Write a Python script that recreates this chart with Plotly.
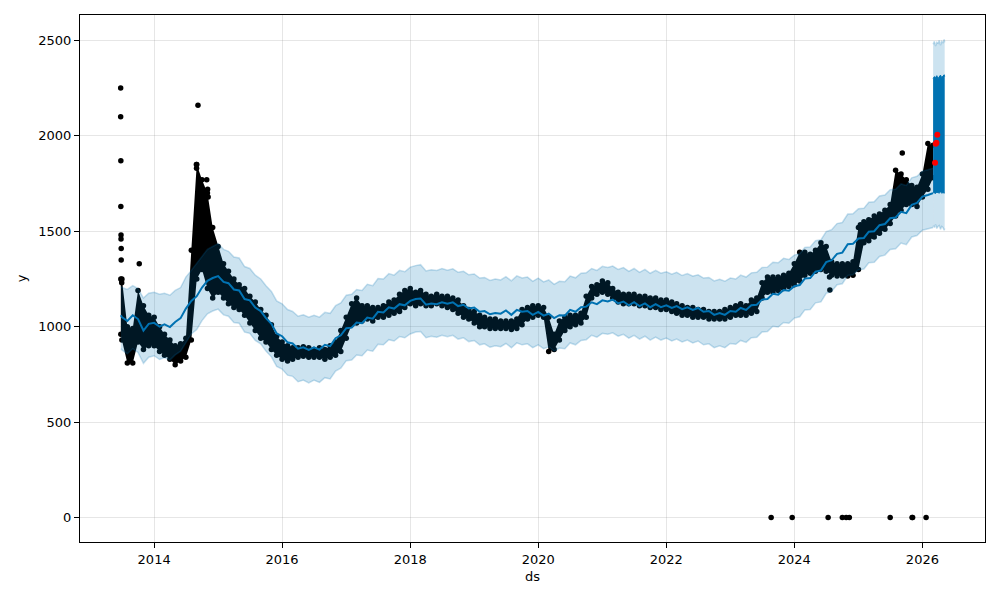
import pandas as pd
import plotly.graph_objects as go

# ---------------- data ----------------
start_date = ["2013-06-25"]
end_date = ["2026-03-03"]
month_starts = [d.strftime("%Y-%m-%d") for d in pd.date_range("2013-07-01", "2026-02-01", freq="MS")]
ds = start_date + month_starts + end_date

yhat = [1060,
        1050, 1030, 1060, 1040, 980, 1015,
        1020, 1000, 1012, 998, 1025, 1045, 1095, 1135, 1160, 1205, 1240, 1255,
        1265, 1235, 1228, 1195, 1190, 1145, 1138, 1100, 1082, 1045, 1015, 965,
        950, 918, 912, 885, 892, 878, 892, 880, 905, 898, 940, 955,
        992, 995, 1022, 1018, 1048, 1042, 1078, 1075, 1102, 1095, 1118, 1112,
        1135, 1145, 1148, 1115, 1122, 1118, 1128, 1120, 1128, 1108, 1115, 1095,
        1100, 1078, 1082, 1065, 1072, 1068, 1085, 1062, 1088, 1078, 1082, 1062,
        1078, 1058, 1068, 1045, 1060, 1058, 1088, 1078, 1102, 1105, 1128, 1118,
        1138, 1132, 1142, 1122, 1132, 1112, 1128, 1108, 1122, 1102, 1118, 1102,
        1112, 1098, 1108, 1092, 1102, 1088, 1098, 1078, 1082, 1062, 1072, 1062,
        1082, 1078, 1098, 1088, 1112, 1115, 1142, 1145, 1172, 1168, 1192, 1188,
        1212, 1218, 1252, 1255, 1288, 1295, 1338, 1348, 1382, 1388, 1432, 1435,
        1462, 1465, 1498, 1500, 1532, 1538, 1568, 1572, 1602, 1595, 1638, 1648,
        1682, 1690,
        1700]

yhat_upper = [1212,
              1205, 1195, 1215, 1200, 1150, 1175,
              1180, 1170, 1175, 1165, 1190, 1205, 1260, 1295, 1330, 1370, 1405, 1420,
              1435, 1405, 1395, 1365, 1360, 1315, 1305, 1270, 1250, 1215, 1185, 1135,
              1120, 1090, 1080, 1055, 1062, 1050, 1060, 1050, 1075, 1070, 1110, 1125,
              1165, 1170, 1195, 1190, 1222, 1215, 1252, 1250, 1278, 1270, 1295, 1288,
              1312, 1320, 1325, 1292, 1298, 1295, 1305, 1296, 1303, 1285, 1290, 1272,
              1276, 1255, 1258, 1242, 1250, 1245, 1262, 1240, 1266, 1255, 1260, 1238,
              1255, 1235, 1245, 1222, 1238, 1236, 1265, 1256, 1280, 1282, 1305, 1295,
              1316, 1310, 1318, 1300, 1310, 1290, 1305, 1285, 1300, 1280, 1295, 1280,
              1288, 1275, 1285, 1268, 1278, 1265, 1272, 1255, 1258, 1240, 1248, 1238,
              1255, 1250, 1270, 1260, 1282, 1285, 1310, 1312, 1338, 1335, 1358, 1352,
              1375, 1382, 1415, 1418, 1450, 1455, 1498, 1508, 1540, 1546, 1590, 1592,
              1618, 1620, 1652, 1654, 1685, 1690, 1718, 1720, 1748, 1740, 1780, 1788,
              1815, 1822,
              1830]

yhat_lower = [885,
              878, 858, 885, 865, 808, 840,
              848, 828, 838, 825, 852, 872, 920, 962, 985, 1032, 1068, 1082,
              1092, 1062, 1055, 1022, 1018, 972, 965, 928, 910, 872, 842, 792,
              778, 746, 740, 712, 720, 706, 720, 708, 733, 726, 768, 783,
              822, 825, 852, 848, 878, 872, 908, 905, 932, 925, 948, 942,
              962, 972, 975, 942, 950, 945, 955, 948, 955, 935, 942, 922,
              928, 905, 910, 892, 900, 895, 912, 890, 915, 905, 910, 890,
              905, 885, 895, 872, 888, 885, 915, 905, 928, 932, 955, 945,
              965, 960, 968, 950, 960, 940, 955, 935, 950, 930, 945, 930,
              940, 925, 935, 920, 930, 915, 925, 905, 910, 890, 900, 890,
              912, 908, 928, 918, 942, 945, 972, 975, 1002, 998, 1022, 1018,
              1045, 1052, 1088, 1090, 1125, 1130, 1175, 1185, 1220, 1225, 1268, 1272,
              1298, 1302, 1335, 1338, 1368, 1375, 1405, 1408, 1438, 1430, 1470, 1478,
              1505, 1512,
              1520]

obs_low = [960,
           930, 810, 810, 920, 880, 900,
           900, 870, 850, 830, 800, 820, 840, 930, 1250, 1300, 1200, 1150,
           1180, 1150, 1120, 1100, 1090, 1060, 1020, 980, 940, 920, 880, 850,
           830, 820, 830, 840, 845, 840, 840, 840, 830, 840, 850, 870,
           940, 1010, 1020, 1030, 1040, 1030, 1050, 1050, 1060, 1070, 1080, 1100,
           1120, 1110, 1120, 1110, 1110, 1120, 1110, 1100, 1090, 1070, 1050, 1040,
           1020, 1000, 1000, 990, 990, 990, 990, 985, 990, 1010, 1040, 1050,
           1060, 1050, 870, 880, 930, 980, 1000, 1010, 1020, 1050, 1150, 1170,
           1180, 1170, 1150, 1130, 1120, 1120, 1120, 1110, 1110, 1100, 1100, 1090,
           1090, 1080, 1070, 1060, 1060, 1050, 1050, 1050, 1040, 1040, 1040, 1040,
           1050, 1060, 1060, 1060, 1070, 1080, 1150, 1180, 1180, 1190, 1200, 1210,
           1220, 1240, 1270, 1280, 1290, 1300, 1290, 1270, 1265, 1265, 1265, 1270,
           1300, 1440, 1450, 1470, 1490, 1510, 1540, 1580, 1610, 1640, 1640, 1630,
           1680, 1720,
           1780]

obs_high = [1250,
            1250, 1000, 990, 1190, 1110, 1060,
            1050, 1000, 960, 930, 900, 910, 940, 1400, 1850, 1770, 1700, 1520,
            1420, 1330, 1290, 1250, 1220, 1200, 1160, 1130, 1090, 1060, 1010, 950,
            920, 900, 890, 890, 895, 890, 880, 890, 880, 900, 920, 980,
            1050, 1120, 1150, 1110, 1110, 1100, 1100, 1110, 1130, 1140, 1170, 1190,
            1200, 1180, 1190, 1170, 1160, 1170, 1160, 1160, 1150, 1140, 1110, 1090,
            1080, 1060, 1050, 1040, 1040, 1030, 1030, 1030, 1040, 1090, 1100, 1110,
            1110, 1100, 1050, 960, 1030, 1050, 1060, 1060, 1070, 1160, 1210, 1220,
            1240, 1230, 1200, 1180, 1170, 1170, 1170, 1160, 1160, 1150, 1150, 1140,
            1140, 1130, 1120, 1110, 1100, 1100, 1090, 1090, 1080, 1080, 1080, 1090,
            1100, 1110, 1120, 1110, 1140, 1150, 1230, 1260, 1260, 1260, 1270, 1280,
            1330, 1390, 1390, 1380, 1400, 1440, 1420, 1340, 1330, 1330, 1330, 1340,
            1520, 1550, 1560, 1580, 1590, 1610, 1640, 1820, 1800, 1770, 1740, 1730,
            1800, 1960,
            1950]

outlier_ds = ["2013-06-24", "2013-06-24", "2013-06-25", "2013-06-25", "2013-06-26",
              "2013-06-26", "2013-06-27", "2013-06-27", "2013-06-29", "2013-06-30",
              "2013-10-08", "2014-08-30", "2014-08-31", "2014-09-08", "2014-10-28",
              "2014-11-02", "2014-11-05", "2024-07-20", "2024-07-22", "2025-01-12",
              "2025-09-08",
              "2023-08-22", "2023-12-20", "2024-07-12", "2024-10-01", "2024-10-23",
              "2024-11-10", "2025-07-01", "2025-11-03", "2025-11-06", "2026-01-22"]
outlier_y = [2250, 2100, 1870, 1630, 1480,
             1460, 1410, 1350, 1245, 1230,
             1330, 1850, 1830, 2160, 1770,
             1720, 1680, 1260, 1192, 1534,
             1910,
             0, 0, 0, 0, 0,
             0, 0, 0, 0, 0]

fc_ds = ["2026-03-03", "2026-03-10", "2026-03-17", "2026-03-24", "2026-03-31", "2026-04-07",
         "2026-04-14", "2026-04-21", "2026-04-28", "2026-05-05", "2026-05-08"]
fc_yhat_min = [1705, 1700, 1698, 1705, 1702, 1700, 1706, 1700, 1702, 1698, 1700]
fc_yhat_max = [2300, 2310, 2305, 2315, 2300, 2310, 2318, 2305, 2312, 2320, 2310]
fc_lower = [1530, 1520, 1535, 1515, 1525, 1530, 1510, 1525, 1520, 1505, 1515]
fc_upper = [2480, 2495, 2470, 2490, 2485, 2500, 2475, 2495, 2488, 2505, 2490]

actual_ds = ["2026-03-14", "2026-03-18", "2026-03-22", "2026-03-27"]
actual_y = [1859, 1959, 1964, 2006]

x_ticks = ["2014-01-01", "2016-01-01", "2018-01-01", "2020-01-01",
           "2022-01-01", "2024-01-01", "2026-01-01"]
x_tick_text = ["2014", "2016", "2018", "2020", "2022", "2024", "2026"]
y_ticks = [0, 500, 1000, 1500, 2000, 2500]

# ---------------- styles ----------------
BLUE = "#0072B2"
BAND = "rgba(0,114,178,0.2)"
BAND_EDGE = "rgba(0,114,178,0.22)"
FONT = "DejaVu Sans"

fig = go.Figure()

# observed points (dense black cloud)
fig.add_trace(go.Scatter(x=ds, y=obs_low, mode="lines", line=dict(width=0, color="black"),
                         showlegend=False, hoverinfo="skip"))
fig.add_trace(go.Scatter(x=ds, y=obs_high, mode="lines", line=dict(width=0, color="black"),
                         fill="tonexty", fillcolor="black", showlegend=False, hoverinfo="skip"))
fig.add_trace(go.Scatter(x=ds + ds, y=obs_low + obs_high, mode="markers",
                         marker=dict(size=5.5, color="black"), showlegend=False))
fig.add_trace(go.Scatter(x=outlier_ds, y=outlier_y, mode="markers",
                         marker=dict(size=5.5, color="black"), showlegend=False))

# fitted line
fig.add_trace(go.Scatter(x=ds, y=yhat, mode="lines", line=dict(color=BLUE, width=2),
                         showlegend=False))
# forecast (rapidly oscillating yhat appears as solid block)
fig.add_trace(go.Scatter(x=fc_ds, y=fc_yhat_min, mode="lines", line=dict(color=BLUE, width=1),
                         showlegend=False))
fig.add_trace(go.Scatter(x=fc_ds, y=fc_yhat_max, mode="lines", line=dict(color=BLUE, width=1),
                         fill="tonexty", fillcolor=BLUE, showlegend=False))

# uncertainty band
fig.add_trace(go.Scatter(x=ds, y=yhat_lower, mode="lines", line=dict(color=BAND_EDGE, width=1.5),
                         showlegend=False))
fig.add_trace(go.Scatter(x=ds, y=yhat_upper, mode="lines", line=dict(color=BAND_EDGE, width=1.5),
                         fill="tonexty", fillcolor=BAND, showlegend=False))
fig.add_trace(go.Scatter(x=fc_ds, y=fc_lower, mode="lines", line=dict(color=BAND_EDGE, width=1.5),
                         showlegend=False))
fig.add_trace(go.Scatter(x=fc_ds, y=fc_upper, mode="lines", line=dict(color=BAND_EDGE, width=1.5),
                         fill="tonexty", fillcolor=BAND, showlegend=False))

# actual points in forecast window
fig.add_trace(go.Scatter(x=actual_ds, y=actual_y, mode="markers",
                         marker=dict(size=6, color="red"), showlegend=False))

axis_common = dict(showline=True, linecolor="black", linewidth=1, mirror=True,
                   ticks="outside", ticklen=5, tickcolor="black", tickwidth=1,
                   showgrid=True, gridcolor="rgba(128,128,128,0.2)", gridwidth=1,
                   zeroline=False, tickfont=dict(family=FONT, size=13, color="black"))

# the page body adds an 8px offset, so the figure is sized to fit the 1000x600 window
fig.update_layout(
    width=992, height=592,
    margin=dict(l=72, r=15, t=7, b=58),
    paper_bgcolor="white", plot_bgcolor="white",
    font=dict(family=FONT, size=13, color="black"),
    showlegend=False,
    xaxis=dict(type="date", range=["2012-11-04", "2026-12-24"],
               tickmode="array", tickvals=x_ticks, ticktext=x_tick_text,
               title=dict(text="ds", standoff=6, font=dict(family=FONT, size=13)),
               **axis_common),
    yaxis=dict(range=[-128, 2633], tickmode="array", tickvals=y_ticks,
               title=dict(text="y", standoff=8, font=dict(family=FONT, size=13)),
               **axis_common),
)

fig.write_html("out.html")
